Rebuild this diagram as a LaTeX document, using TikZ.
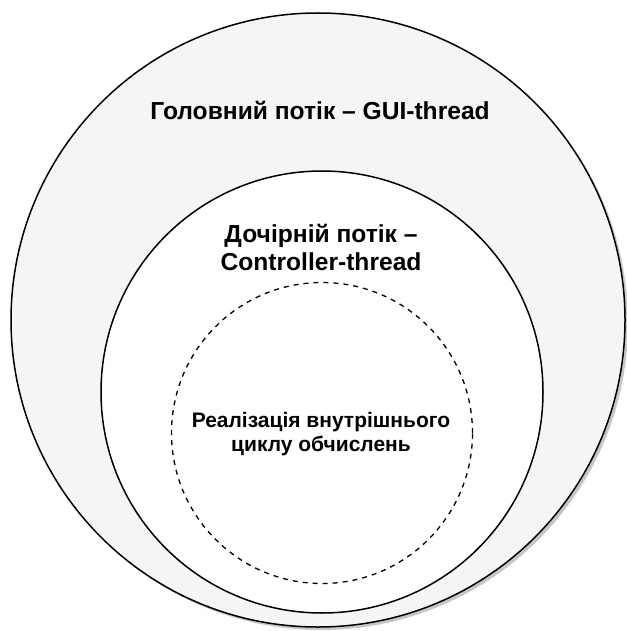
\documentclass[tikz,border=0pt]{standalone}
\usepackage{fontspec}
\setmainfont{Liberation Sans}
\begin{document}
\begin{tikzpicture}[x=1pt,y=-1pt,
  ring/.style={circle,draw=black,line width=1.5pt,inner sep=0pt},
  label/.style={align=center,text=black}]
\useasboundingbox (0,0) rectangle (626,631);
% drop shadow of the outer thread
\fill[black!22] (321,323) circle (307);
% main thread
\node[ring,fill=black!4,minimum size=614pt] (gui) at (318,320) {};
% child thread
\node[ring,fill=white,minimum size=442pt] (ctrl) at (322,392) {};
% inner computation loop
\node[ring,line width=1.3pt,dash pattern=on 5pt off 5pt,minimum size=301pt] (loop) at (322,433) {};
\node[label,font=\fontsize{24.6}{28}\selectfont\bfseries] (guit) at (320,110) {Головний потік – GUI-thread};
\node[label,font=\fontsize{24.6}{28}\selectfont\bfseries] (ctrlt) at (321,247) {Дочірній потік –\\Controller-thread};
\node[label,font=\fontsize{21}{24}\selectfont\bfseries] (loopt) at (321,434) {Реалізація внутрішнього\\циклу обчислень};
\end{tikzpicture}
\end{document}
